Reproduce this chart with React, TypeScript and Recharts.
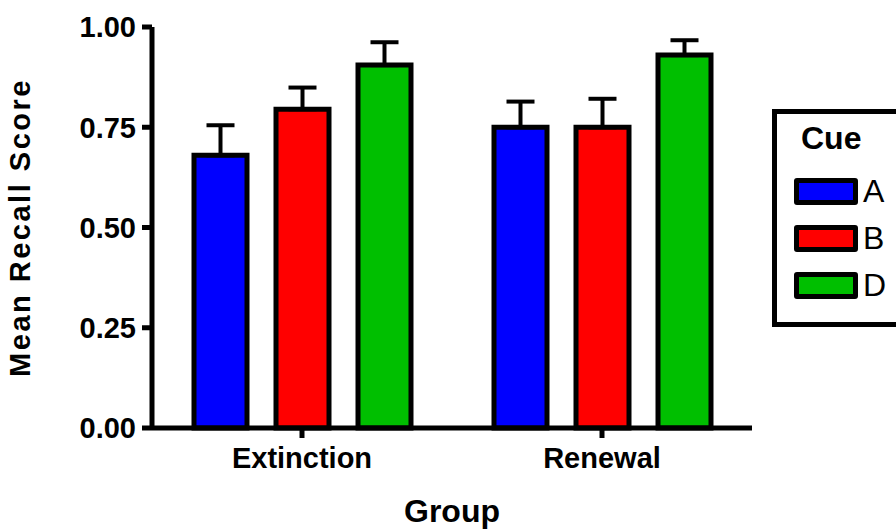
import React from 'react';
import { BarChart, Bar, XAxis, YAxis, ErrorBar } from 'recharts';

const groups = ['Extinction', 'Renewal'];
const cueNames = ['A', 'B', 'D'];
const cueColors = ['#0000FF', '#FF0000', '#00BF00'];
const cueA = [0.68, 0.75];
const cueB = [0.795, 0.75];
const cueD = [0.905, 0.93];
const semA = [0.075, 0.064];
const semB = [0.054, 0.071];
const semD = [0.057, 0.037];
const yTicks = [0, 0.25, 0.5, 0.75, 1];

const chartData = groups.map((g, i) => ({
  group: g,
  A: cueA[i],
  B: cueB[i],
  D: cueD[i],
  errA: [0, semA[i]],
  errB: [0, semB[i]],
  errD: [0, semD[i]],
}));

const font = '"Liberation Sans", Arial, sans-serif';

const CueLegend: React.FC = () => (
  <div
    style={{
      position: 'absolute',
      left: 772,
      top: 109,
      width: 150,
      height: 208,
      border: '5.5px solid #000',
      fontFamily: font,
      color: '#000',
    }}
  >
    <div style={{ position: 'absolute', left: 24, top: 6, fontSize: 32, fontWeight: 'bold' }}>Cue</div>
    {cueNames.map((name, i) => (
      <div key={name} style={{ position: 'absolute', left: 17, top: 64 + i * 47, height: 27, display: 'flex', alignItems: 'center' }}>
        <div
          style={{
            width: 54,
            height: 17,
            background: cueColors[i],
            border: '5px solid #000',
            borderRadius: 3,
          }}
        />
        <span style={{ fontSize: 32, marginLeft: 5, lineHeight: '27px' }}>{name}</span>
      </div>
    ))}
  </div>
);

const App: React.FC = () => {
  return (
    <div style={{ position: 'absolute', left: 0, top: 0, width: 896, height: 530, overflow: 'hidden', background: '#fff', fontFamily: font }}>
      <BarChart
        width={896}
        height={530}
        data={chartData}
        margin={{ top: 27, right: 144, bottom: 0, left: 0 }}
        barSize={53}
        barGap={29}
      >
        <XAxis
          dataKey="group"
          height={102}
          stroke="#000"
          strokeWidth={5}
          tickSize={10}
          tickMargin={9}
          tick={{ fill: '#000', fontSize: 29, fontWeight: 'bold' }}
          label={{ value: 'Group', position: 'insideBottom', offset: 8, style: { fontSize: 32, fontWeight: 'bold', fill: '#000' } }}
        />
        <YAxis
          width={152}
          domain={[0, 1]}
          ticks={yTicks}
          tickFormatter={(v: number) => v.toFixed(2)}
          stroke="#000"
          strokeWidth={5}
          tickSize={10}
          tickMargin={6}
          tick={{ fill: '#000', fontSize: 29, fontWeight: 'bold' }}
          label={{
            value: 'Mean Recall Score',
            angle: -90,
            position: 'insideLeft',
            offset: 26,
            dx: -6,
            style: { textAnchor: 'middle', fontSize: 29, fontWeight: 'bold', letterSpacing: 2.5, fill: '#000' },
          }}
        />
        <Bar dataKey="A" fill={cueColors[0]} stroke="#000" strokeWidth={5} isAnimationActive={false}>
          <ErrorBar dataKey="errA" direction="y" width={14} stroke="#000" strokeWidth={4} isAnimationActive={false} />
        </Bar>
        <Bar dataKey="B" fill={cueColors[1]} stroke="#000" strokeWidth={5} isAnimationActive={false}>
          <ErrorBar dataKey="errB" direction="y" width={14} stroke="#000" strokeWidth={4} isAnimationActive={false} />
        </Bar>
        <Bar dataKey="D" fill={cueColors[2]} stroke="#000" strokeWidth={5} isAnimationActive={false}>
          <ErrorBar dataKey="errD" direction="y" width={14} stroke="#000" strokeWidth={4} isAnimationActive={false} />
        </Bar>
      </BarChart>
      <CueLegend />
    </div>
  );
};

export default App;
